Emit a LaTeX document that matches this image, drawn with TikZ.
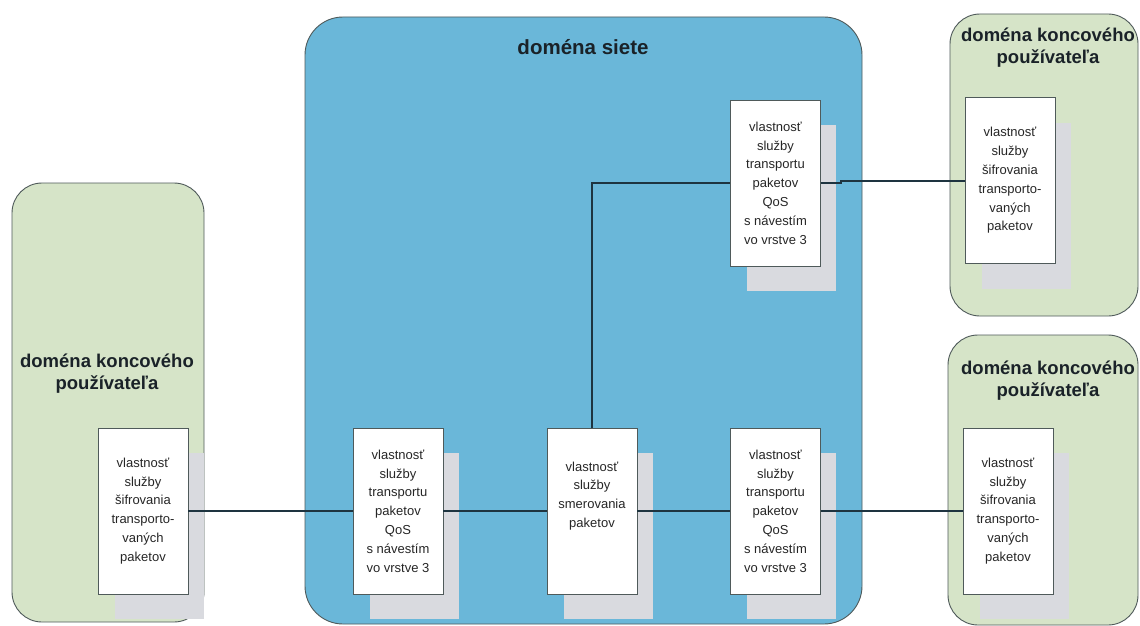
\documentclass[tikz,border=0pt]{standalone}
\usepackage{fontspec}
\setmainfont{Liberation Sans}
\usetikzlibrary{calc}

\definecolor{netblue}{HTML}{6AB7D9}
\definecolor{usergreen}{HTML}{D6E4C8}
\definecolor{shadowgrey}{HTML}{D9DADF}
\definecolor{edgegrey}{HTML}{4F5A5A}
\definecolor{wire}{HTML}{1E3440}
\definecolor{titleink}{HTML}{1A2228}

\tikzset{
  domainbox/.style={draw=edgegrey, line width=0.9pt, rounded corners=30pt, inner sep=0pt},
  featurebox/.style={draw=edgegrey, fill=white, line width=0.8pt,
    minimum width=90pt, minimum height=166pt, inner sep=0pt,
    align=center, font=\fontsize{13}{18.8}\selectfont, text=black!85},
  boxshade/.style={fill=shadowgrey, draw=none,
    minimum width=89pt, minimum height=166pt, inner sep=0pt},
  boxtext/.style={align=center, font=\fontsize{13}{18.8}\selectfont, text=black!85, inner sep=0pt},
  link/.style={draw=wire, line width=2pt},
  domaintitle/.style={font=\bfseries\fontsize{18.5}{22}\selectfont, align=center, text=titleink}
}

\begin{document}
\begin{tikzpicture}[x=1pt, y=-1pt]
  \useasboundingbox (0,0) rectangle (1140,626);
  \fill[white] (0,0) rectangle (1140,626);

  % domains
  \node[domainbox, fill=usergreen, minimum width=192pt, minimum height=439pt] (udl) at (108,402.5) {};
  \node[domainbox, fill=netblue, rounded corners=38pt, minimum width=557pt, minimum height=607pt] (net) at (583.5,320.5) {};
  \node[domainbox, fill=usergreen, minimum width=188pt, minimum height=302pt] (udt) at (1044,165) {};
  \node[domainbox, fill=usergreen, minimum width=190pt, minimum height=290pt] (udb) at (1043,480) {};

  % domain titles
  \node[domaintitle] (tudl) at (107,374) {doména koncového\\používateľa};
  \node[domaintitle, font=\bfseries\fontsize{20.5}{22}\selectfont] (tnet) at (583,47) {doména siete};
  \node[domaintitle] (tudt) at (1048,48) {doména koncového\\používateľa};
  \node[domaintitle] (tudb) at (1048,381) {doména koncového\\používateľa};

  % shadows behind the feature boxes
  \node[boxshade] (sle)  at (159.5,536) {};
  \node[boxshade] (sqb1) at (414.5,536) {};
  \node[boxshade] (srm)  at (608.5,536) {};
  \node[boxshade] (sqb2) at (791.5,536) {};
  \node[boxshade] (sqt)  at (791.5,207.5) {};
  \node[boxshade] (srt)  at (1026.5,206) {};
  \node[boxshade] (srb)  at (1024.5,536) {};

  % feature boxes
  \node[featurebox] (le) at (143,511)
    {vlastnosť\\služby\\šifrovania\\transporto-\\vaných\\paketov};
  \node[featurebox] (qb1) at (398,511)
    {vlastnosť\\služby\\transportu\\paketov\\QoS\\s návestím\\vo vrstve 3};
  \node[featurebox] (rm) at (592,511) {};
  \node[boxtext] (rmtext) at (592,496)
    {vlastnosť\\služby\\smerovania\\paketov};
  \node[featurebox] (qb2) at (775.5,511)
    {vlastnosť\\služby\\transportu\\paketov\\QoS\\s návestím\\vo vrstve 3};
  \node[featurebox] (qt) at (775.5,183)
    {vlastnosť\\služby\\transportu\\paketov\\QoS\\s návestím\\vo vrstve 3};
  \node[featurebox] (rt) at (1010,180.5)
    {vlastnosť\\služby\\šifrovania\\transporto-\\vaných\\paketov};
  \node[featurebox] (rb) at (1008,511)
    {vlastnosť\\služby\\šifrovania\\transporto-\\vaných\\paketov};

  % connections
  \draw[link] (le.east) -- (qb1.west);
  \draw[link] (qb1.east) -- (rm.west);
  \draw[link] (rm.east) -- (qb2.west);
  \draw[link] (qb2.east) -- (rb.west);
  \draw[link] (rm.north) |- (qt.west);
  \draw[link] (qt.east) -- ++(20,0) |- (rt.west);
\end{tikzpicture}
\end{document}
